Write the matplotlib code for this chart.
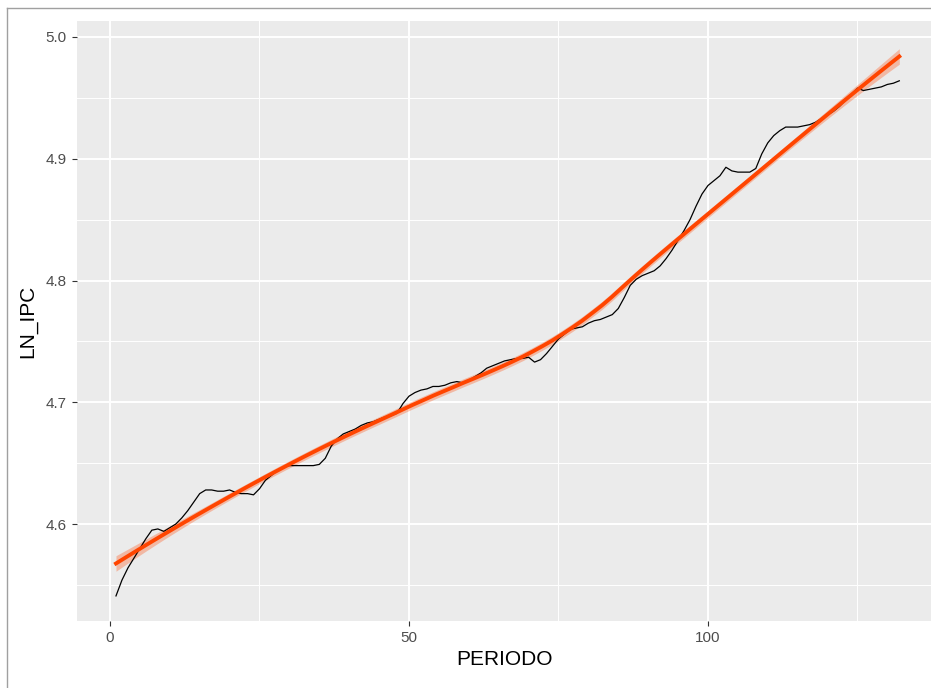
import matplotlib
matplotlib.use('Agg')
import matplotlib.pyplot as plt
from matplotlib.lines import Line2D
import numpy as np

#LN_IPC series, one value per period (1..132)
periodo = np.arange(1, 133)
ln_ipc = np.array([
    4.541, 4.554, 4.564, 4.572, 4.580, 4.588, 4.595, 4.596, 4.594, 4.597,
    4.600, 4.605, 4.611, 4.618, 4.625, 4.628, 4.628, 4.627, 4.627, 4.628,
    4.626, 4.625, 4.625, 4.624, 4.629, 4.636, 4.640, 4.644, 4.647, 4.648,
    4.648, 4.648, 4.648, 4.648, 4.649, 4.654, 4.664, 4.670, 4.674, 4.676,
    4.678, 4.681, 4.683, 4.684, 4.686, 4.688, 4.689, 4.691, 4.699, 4.705,
    4.708, 4.710, 4.711, 4.713, 4.713, 4.714, 4.716, 4.717, 4.716, 4.718,
    4.721, 4.724, 4.728, 4.730, 4.732, 4.734, 4.735, 4.736, 4.736, 4.737,
    4.733, 4.735, 4.740, 4.746, 4.752, 4.756, 4.760, 4.761, 4.762, 4.765,
    4.767, 4.768, 4.770, 4.772, 4.777, 4.786, 4.796, 4.801, 4.804, 4.806,
    4.808, 4.812, 4.818, 4.825, 4.833, 4.841, 4.850, 4.861, 4.871, 4.878,
    4.882, 4.886, 4.893, 4.890, 4.889, 4.889, 4.889, 4.892, 4.904, 4.913,
    4.919, 4.923, 4.926, 4.926, 4.926, 4.927, 4.928, 4.930, 4.933, 4.936,
    4.939, 4.943, 4.948, 4.953, 4.958, 4.956, 4.957, 4.958, 4.959, 4.961,
    4.962, 4.964])

x_ticks = [0, 50, 100]
y_ticks = [4.6, 4.7, 4.8, 4.9, 5.0]


#loess like geom_smooth (span 0.75, degree 2) with a 95% band
def loess(x, y, grid, span=0.75):
    n = len(x)
    q = int(np.floor(n * span))
    def row(x0):
        d = np.abs(x - x0)
        h = np.sort(d)[q - 1]
        w = np.clip(1 - (d / h) ** 3, 0, None) ** 3
        X = np.column_stack([np.ones(n), x - x0, (x - x0) ** 2])
        XtW = X.T * w
        return np.linalg.solve(XtW @ X, XtW)[0]
    L = np.array([row(v) for v in x])
    res = y - L @ y
    M = np.eye(n) - L
    delta1 = np.trace(M.T @ M)
    sigma = np.sqrt(np.sum(res ** 2) / delta1)
    Lg = np.array([row(v) for v in grid])
    fit = Lg @ y
    se = sigma * np.sqrt(np.sum(Lg ** 2, axis=1))
    return fit, se


grid = np.linspace(periodo.min(), periodo.max(), 80)
fit, se = loess(periodo.astype(float), ln_ipc, grid)

fig = plt.figure(figsize=(9.31, 6.88), dpi=100)
ax = fig.add_axes([77/931, (688-621)/688, (931-77)/931, (621-21)/688])
ax.set_facecolor('#EBEBEB')
for s in ax.spines.values():
    s.set_visible(False)

ax.set_xlim(-5.52, 137.3)
ax.set_ylim(4.5204, 5.0131)
ax.set_xticks(x_ticks)
ax.set_yticks(y_ticks)
ax.set_xticks([25, 75, 125], minor=True)
ax.set_yticks([4.55, 4.65, 4.75, 4.85, 4.95], minor=True)
ax.grid(which='major', color='white', linewidth=1.4)
ax.grid(which='minor', color='white', linewidth=0.7)
ax.set_axisbelow(True)

font = ['Liberation Sans Narrow', 'Liberation Sans', 'DejaVu Sans']
ax.tick_params(which='major', length=3.5, width=0.8, color='#333333',
               labelcolor='#4d4d4d', labelsize=11, pad=4)
ax.tick_params(which='minor', length=0)
for lab in ax.get_xticklabels() + ax.get_yticklabels():
    lab.set_family(font)

ax.plot(periodo, ln_ipc, color='black', linewidth=0.9)
ax.fill_between(grid, fit - 1.98 * se, fit + 1.98 * se, color='#FF4500',
                alpha=0.3, linewidth=0)
ax.plot(grid, fit, color='#FF4500', linewidth=2.8)

ax.set_xlabel('PERIODO', family=font, fontsize=15, color='black', labelpad=3)
ax.set_ylabel('LN_IPC', family=font, fontsize=15, color='black', labelpad=6)

#screenshot frame
fig.add_artist(Line2D([7/931, 1], [1 - 8/688, 1 - 8/688], color='#a0a0a0', linewidth=1))
fig.add_artist(Line2D([7/931, 7/931], [0, 1 - 8/688], color='#a0a0a0', linewidth=1))

fig.savefig('out.png', dpi=100)
